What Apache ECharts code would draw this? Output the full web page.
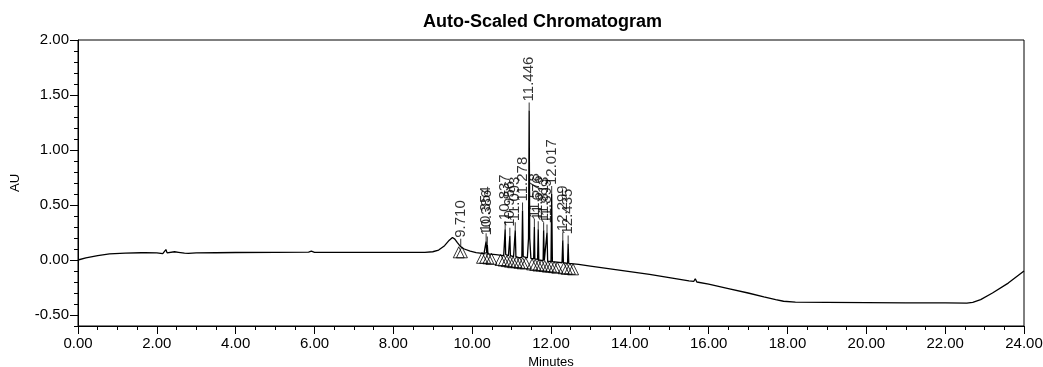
<!DOCTYPE html>
<html>
<head>
<meta charset="utf-8">
<script src="https://cdn.jsdelivr.net/npm/echarts@6/dist/echarts.min.js"></script>
<style>
html,body{margin:0;padding:0;background:#fff;}
#chart{width:1043px;height:367px;}
</style>
</head>
<body>
<div id="chart"></div>
<script>
// Chromatogram trace: [minutes, AU]
const traceTime = [0,0.2,0.5,0.8,1.2,1.6,1.65,1.7,2.0,2.15,2.2,2.23,2.26,2.3,2.45,2.55,2.7,2.8,3.0,3.5,4.0,5.0,5.85,5.92,6.0,7.0,8.0,8.8,9.0,9.15,9.3,9.42,9.5,9.56,9.62,9.71,9.8,9.95,10.1,10.3,
  10.34,10.354,10.37,10.384,10.40,10.6,10.8,10.82,10.837,10.85,10.92,10.956,10.97,11.05,11.093,11.11,11.2,11.26,11.278,11.295,11.4,11.43,11.446,11.46,11.49,11.56,11.578,11.59,11.66,11.676,11.69,11.8,11.813,11.83,11.88,11.899,11.915,12.0,12.017,12.035,12.28,12.299,12.315,12.42,12.435,12.45,12.7,
  13.0,13.5,14.0,14.5,15.0,15.5,15.62,15.66,15.7,16.0,16.5,17.0,17.4,17.7,17.9,18.2,19,20,21,22,22.55,22.7,22.9,23.2,23.6,24];
const traceAU = [0,0.02,0.04,0.055,0.062,0.066,0.08,0.067,0.064,0.058,0.072,0.095,0.065,0.058,0.075,0.07,0.062,0.06,0.064,0.066,0.068,0.07,0.072,0.08,0.07,0.069,0.069,0.07,0.075,0.09,0.13,0.18,0.205,0.19,0.16,0.12,0.1,0.08,0.068,0.058,
  0.06,0.17,0.06,0.14,0.055,0.048,0.04,0.045,0.28,0.05,0.04,0.22,0.04,0.03,0.27,0.03,0.02,0.025,0.45,0.03,0.02,0.2,1.36,0.2,0.015,0.01,0.30,0.01,0.005,0.28,0.0,-0.005,0.27,-0.005,-0.01,0.25,-0.01,-0.015,0.60,-0.015,-0.025,0.18,-0.025,-0.03,0.15,-0.03,-0.04,
  -0.055,-0.08,-0.105,-0.13,-0.16,-0.19,-0.195,-0.17,-0.2,-0.22,-0.26,-0.3,-0.335,-0.36,-0.375,-0.383,-0.385,-0.387,-0.39,-0.39,-0.392,-0.385,-0.36,-0.3,-0.21,-0.1];

// Peak labels (retention times) and apex heights
const peakTimes = [9.710,10.354,10.384,10.837,10.956,11.093,11.278,11.446,11.578,11.676,11.813,11.899,12.017,12.299,12.435];
const peakHeights = [0.12,0.17,0.14,0.28,0.22,0.27,0.45,1.36,0.30,0.28,0.27,0.25,0.60,0.18,0.15];
const peakLabels = ["9.710","10.354","10.386","10.837","10.956","11.093","11.278","11.446","11.578","11.676","11.813","11.899","12.017","12.299","12.435"];

// Baseline start/end markers
const markTimes = [9.66,9.74,10.25,10.33,10.41,10.49,10.72,10.80,10.88,10.96,11.04,11.12,11.20,11.28,11.36,11.52,11.60,11.68,11.76,11.84,11.92,12.00,12.08,12.16,12.32,12.40,12.48,12.56];
const markAU = [0.07,0.07,0.02,0.02,0.015,0.01,0.0,-0.005,-0.01,-0.015,-0.02,-0.02,-0.025,-0.03,-0.03,-0.04,-0.045,-0.05,-0.05,-0.055,-0.06,-0.06,-0.065,-0.07,-0.075,-0.08,-0.08,-0.085];

// Axis ticks
const xTicks = [0,2,4,6,8,10,12,14,16,18,20,22,24];
const yMajor = [-0.5,0,0.5,1.0,1.5,2.0];

const font = 'Arial, "Liberation Sans", Helvetica, sans-serif';
const chart = echarts.init(document.getElementById('chart'), null, {renderer:'canvas'});
const traceData = traceTime.map((t,i)=>[t,traceAU[i]]);
const peakData = peakTimes.map((t,i)=>[t,peakHeights[i]]);
const markData = markTimes.map((t,i)=>[t,markAU[i]]);

chart.setOption({
  animation:false,
  backgroundColor:'#fff',
  title:{text:'Auto-Scaled Chromatogram',left:418,top:8,
    textStyle:{fontFamily:font,fontSize:18,fontWeight:'bold',color:'#000'}},
  grid:{left:78,right:19,top:40,bottom:41,show:true,borderColor:'#000',borderWidth:1,backgroundColor:'transparent',
    outerBoundsMode:'none',containLabel:false},
  xAxis:{type:'value',min:0,max:24,interval:2,
    name:'Minutes',nameLocation:'middle',nameGap:23,
    nameTextStyle:{fontFamily:font,fontSize:13,color:'#000'},
    axisLine:{show:true,onZero:false,lineStyle:{color:'#000',width:1}},
    axisTick:{show:true,length:8,lineStyle:{color:'#000'},customValues:xTicks},
    minorTick:{show:true,splitNumber:4,length:4,lineStyle:{color:'#000'}},
    axisLabel:{fontFamily:font,fontSize:15,color:'#000',margin:10,customValues:xTicks,formatter:v=>v.toFixed(2)},
    splitLine:{show:false}},
  yAxis:[{type:'value',min:-0.6,max:2.0,interval:0.1,
    name:'AU',nameLocation:'middle',nameGap:56,
    nameTextStyle:{fontFamily:font,fontSize:13,color:'#000'},
    axisLine:{show:true,onZero:false,lineStyle:{color:'#000',width:1}},
    axisTick:{show:true,length:4,lineStyle:{color:'#000'}},
    axisLabel:{fontFamily:font,fontSize:15,color:'#000',margin:9,customValues:yMajor,formatter:v=>v.toFixed(2)},
    splitLine:{show:false}},
   {type:'value',min:-0.6,max:2.0,interval:0.1,position:'left',
    axisLine:{show:false},
    axisTick:{show:true,length:8,lineStyle:{color:'#000'},customValues:yMajor},
    axisLabel:{show:false},
    splitLine:{show:false}}],
  series:[
    {type:'line',data:traceData,showSymbol:false,symbol:'none',
     lineStyle:{color:'#000',width:1.3},z:3},
    {type:'scatter',data:markData,symbol:'triangle',symbolSize:11,
     itemStyle:{color:'rgba(0,0,0,0)',borderColor:'#000',borderWidth:1},z:2},
    {type:'scatter',data:peakData,symbol:'rect',symbolSize:[1,8],symbolOffset:[0,-4],
     itemStyle:{color:'#000'},z:4,
     label:{show:true,position:'top',distance:1,rotate:90,align:'left',verticalAlign:'middle',
       fontFamily:font,fontSize:15,color:'#000',
       formatter:p=>peakLabels[p.dataIndex]}}
  ]
});
</script>
</body>
</html>
